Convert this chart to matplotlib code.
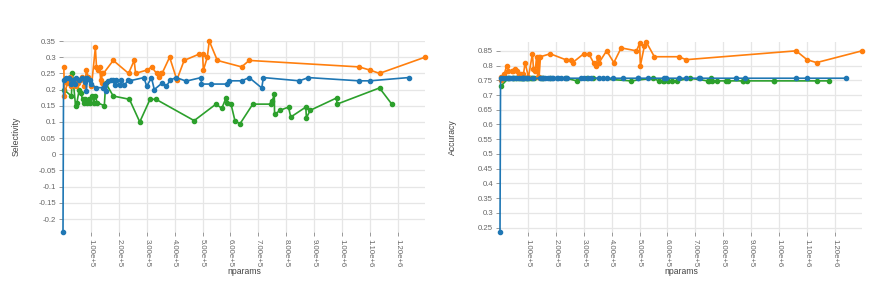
import matplotlib
matplotlib.use("Agg")
import matplotlib.pyplot as plt
from matplotlib.ticker import FixedLocator, FuncFormatter

plt.rcParams['font.family'] = ['Liberation Sans', 'DejaVu Sans']

# model sizes (nparams) for each of the three runs
blue_x = [0, 2000, 12000, 21000, 27000, 36000, 42000, 48000, 57000, 69000,
          78000, 81000, 84000, 87000, 95000, 99000, 119000, 143000, 149000, 155000,
          161000, 173000, 179000, 185000, 191000, 203000, 209000, 220000, 233000, 239000,
          290000, 300000, 317000, 327000, 355000, 370000, 385000, 406000, 441000, 495000,
          496000, 530000, 587000, 596000, 640000, 667000, 712000, 718000, 847000, 879000,
          1061000, 1100000, 1238000]
blue_sel = [-0.24, 0.23, 0.237, 0.237, 0.218, 0.229, 0.218, 0.237, 0.228, 0.237,
            0.223, 0.237, 0.197, 0.237, 0.229, 0.218, 0.206, 0.206, 0.218, 0.197,
            0.227, 0.229, 0.229, 0.213, 0.229, 0.213, 0.229, 0.213, 0.229, 0.227,
            0.237, 0.21, 0.237, 0.20, 0.22, 0.21, 0.23, 0.237, 0.226, 0.237,
            0.217, 0.217, 0.217, 0.227, 0.227, 0.237, 0.205, 0.237, 0.227, 0.237,
            0.227, 0.227, 0.237]
blue_acc = [0.235, 0.757, 0.757, 0.757, 0.757, 0.757, 0.757, 0.757, 0.757, 0.757,
            0.757, 0.757, 0.757, 0.757, 0.757, 0.757, 0.757, 0.757, 0.757, 0.757,
            0.757, 0.757, 0.757, 0.757, 0.757, 0.757, 0.757, 0.757, 0.757, 0.757,
            0.757, 0.757, 0.757, 0.757, 0.757, 0.757, 0.757, 0.757, 0.757, 0.757,
            0.757, 0.757, 0.757, 0.757, 0.757, 0.757, 0.757, 0.757, 0.757, 0.757,
            0.757, 0.757, 0.757]

orange_x = [3000, 5000, 15000, 24000, 30000, 42000, 48000, 54000, 60000, 68000,
            77000, 84000, 90000, 102000, 116000, 120000, 126000, 131000, 135000, 138000,
            140000, 145000, 180000, 235000, 255000, 260000, 300000, 318000, 335000, 345000,
            350000, 355000, 382000, 408000, 434000, 489000, 500000, 503000, 517000, 524000,
            553000, 640000, 667000, 1061000, 1100000, 1134000, 1297000]
orange_sel = [0.27, 0.18, 0.22, 0.24, 0.21, 0.23, 0.21, 0.22, 0.23, 0.24,
              0.21, 0.26, 0.24, 0.21, 0.33, 0.27, 0.26, 0.27, 0.23, 0.22,
              0.25, 0.25, 0.29, 0.25, 0.29, 0.25, 0.26, 0.27, 0.25, 0.24,
              0.25, 0.25, 0.30, 0.23, 0.29, 0.31, 0.31, 0.26, 0.30, 0.35,
              0.29, 0.27, 0.29, 0.27, 0.26, 0.25, 0.30]
orange_acc = [0.75, 0.76, 0.77, 0.80, 0.78, 0.78, 0.78, 0.79, 0.78, 0.77,
              0.77, 0.77, 0.81, 0.76, 0.84, 0.79, 0.78, 0.83, 0.76, 0.83,
              0.76, 0.83, 0.84, 0.82, 0.82, 0.81, 0.84, 0.84, 0.81, 0.80,
              0.83, 0.81, 0.85, 0.81, 0.86, 0.85, 0.875, 0.80, 0.865, 0.88,
              0.83, 0.83, 0.82, 0.85, 0.82, 0.81, 0.85]

green_x = [3000, 30000, 34000, 45000, 50000, 58000, 64000, 70000, 75000, 80000,
           86000, 92000, 98000, 104000, 110000, 116000, 122000, 148000, 153000, 180000,
           238000, 275000, 312000, 333000, 470000, 548000, 569000, 584000, 586000, 602000,
           616000, 634000, 680000, 744000, 750000, 757000, 758000, 778000, 808000, 816000,
           870000, 872000, 886000, 980000, 982000, 1134000, 1178000]
green_sel = [0.20, 0.18, 0.25, 0.15, 0.16, 0.20, 0.19, 0.17, 0.16, 0.17,
             0.16, 0.17, 0.16, 0.18, 0.16, 0.18, 0.16, 0.15, 0.22, 0.18,
             0.17, 0.10, 0.17, 0.17, 0.104, 0.155, 0.142, 0.174, 0.16, 0.155,
             0.104, 0.094, 0.155, 0.155, 0.165, 0.186, 0.123, 0.136, 0.146, 0.115,
             0.146, 0.113, 0.136, 0.174, 0.155, 0.205, 0.155]
green_acc = [0.73, 0.757, 0.757, 0.757, 0.757, 0.757, 0.757, 0.757, 0.757, 0.757,
             0.757, 0.757, 0.757, 0.757, 0.757, 0.757, 0.757, 0.757, 0.757, 0.757,
             0.757, 0.748, 0.757, 0.757, 0.748, 0.757, 0.748, 0.748, 0.748, 0.748,
             0.748, 0.748, 0.757, 0.748, 0.748, 0.757, 0.748, 0.748, 0.748, 0.748,
             0.748, 0.748, 0.748, 0.748, 0.748, 0.748, 0.748]

x_ticks = [100000, 200000, 300000, 400000, 500000, 600000,
           700000, 800000, 900000, 1000000, 1100000, 1200000]
sel_ticks = [-0.2, -0.15, -0.1, -0.05, 0, 0.05, 0.1, 0.15, 0.2, 0.25, 0.3, 0.35]
acc_ticks = [0.25, 0.3, 0.35, 0.4, 0.45, 0.5, 0.55, 0.6, 0.65, 0.7, 0.75, 0.8, 0.85]

colors = {'blue': '#1f77b4', 'orange': '#ff7f0e', 'green': '#2ca02c'}


def fmt_x(v, pos):
    return f"{v:.2e}".replace("e+0", "e+")


def fmt_y(v, pos):
    s = f"{v:.2f}".rstrip('0').rstrip('.')
    return "0" if s in ("-0", "") else s


def draw(ax, series, yticks, ylabel):
    for xs, ys, c in series:
        ax.plot(xs, ys, color=c, lw=1.2, marker='o', ms=3.0, clip_on=False, zorder=3)
    allx = [v for s in series for v in s[0]]
    ally = [v for s in series for v in s[1]]
    ax.set_xlim(min(allx), max(allx))
    ax.set_ylim(min(ally), max(ally))
    ax.xaxis.set_major_locator(FixedLocator(x_ticks))
    ax.xaxis.set_major_formatter(FuncFormatter(fmt_x))
    ax.yaxis.set_major_locator(FixedLocator(yticks))
    ax.yaxis.set_major_formatter(FuncFormatter(fmt_y))
    for sp in ax.spines.values():
        sp.set_visible(False)
    ax.grid(True, color='#e6e6e6', lw=0.9, zorder=0)
    ax.set_axisbelow(True)
    ax.tick_params(axis='x', labelrotation=-90, labelsize=5.6, colors='#888888',
                   length=3, width=0.6, pad=2, labelcolor='#666666')
    ax.tick_params(axis='y', labelsize=5.6, colors='#888888', length=3, width=0.6,
                   pad=2, labelcolor='#666666')
    ax.set_xlabel('nparams', fontsize=6.2, color='#444444', labelpad=0)
    ax.set_ylabel(ylabel, fontsize=6.2, color='#444444')
    ax.yaxis.set_label_coords(-0.118, 0.5)


fig = plt.figure(figsize=(8.72, 2.81), dpi=100)
ax1 = fig.add_axes([63 / 872, 49 / 281, 362 / 872, 191 / 281])
ax2 = fig.add_axes([500 / 872, 49 / 281, 362 / 872, 190 / 281])

draw(ax1, [(green_x, green_sel, colors['green']),
           (orange_x, orange_sel, colors['orange']),
           (blue_x, blue_sel, colors['blue'])], sel_ticks, 'Selectivity')
draw(ax2, [(green_x, green_acc, colors['green']),
           (orange_x, orange_acc, colors['orange']),
           (blue_x, blue_acc, colors['blue'])], acc_ticks, 'Accuracy')

fig.savefig('out.png', dpi=100)
